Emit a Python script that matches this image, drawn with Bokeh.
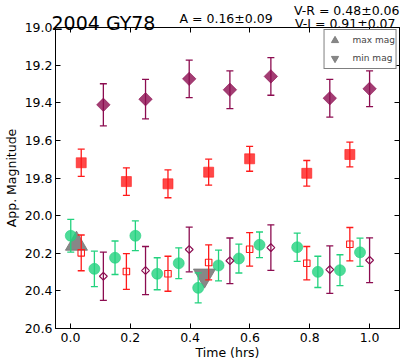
from bokeh.plotting import figure
from bokeh.models import (Range1d, FixedTicker, LinearAxis, Label, Legend, LegendItem,
                          CustomJSTickFormatter, NumeralTickFormatter)
from bokeh.embed import file_html
from bokeh.resources import INLINE

# ---------------- data ----------------
t_V = [0.001, 0.080, 0.149, 0.217, 0.290, 0.362, 0.427, 0.495, 0.563, 0.632, 0.758, 0.827, 0.901, 0.968]
mag_V = [20.107, 20.283, 20.224, 20.107, 20.309, 20.253, 20.384, 20.265, 20.228, 20.155, 20.168, 20.299, 20.290, 20.195]
err_V = [0.087, 0.094, 0.089, 0.079, 0.085, 0.082, 0.080, 0.082, 0.077, 0.068, 0.075, 0.083, 0.082, 0.075]

t_R = [0.036, 0.187, 0.326, 0.462, 0.599, 0.790, 0.934]
mag_R = [19.719, 19.819, 19.831, 19.769, 19.698, 19.775, 19.675]
err_R = [0.072, 0.073, 0.074, 0.069, 0.066, 0.068, 0.066]
mag_R_shift = [20.198, 20.297, 20.309, 20.249, 20.179, 20.253, 20.152]
err_R_shift = [0.095, 0.095, 0.093, 0.093, 0.089, 0.089, 0.089]

t_I = [0.110, 0.251, 0.397, 0.533, 0.670, 0.867, 1.000]
mag_I = [19.411, 19.381, 19.273, 19.331, 19.260, 19.376, 19.326]
err_I = [0.112, 0.105, 0.100, 0.100, 0.100, 0.100, 0.095]
mag_I_shift = [20.322, 20.292, 20.180, 20.240, 20.170, 20.287, 20.237]
err_I_shift = [0.128, 0.128, 0.119, 0.121, 0.121, 0.126, 0.119]

t_max = [0.020]
mag_max = [20.150]
t_min = [0.448]
mag_min = [20.318]

x_ticks = [0.0, 0.2, 0.4, 0.6, 0.8, 1.0]
y_ticks = [19.0, 19.2, 19.4, 19.6, 19.8, 20.0, 20.2, 20.4, 20.6]

title_txt = "2004 GY78"
amp_txt = "A  = 0.16\u00b10.09"
vr_txt = "V-R = 0.48\u00b10.06"
vi_txt = "V-I  = 0.91\u00b10.07"

# ---------------- styling ----------------
PURPLE = "#8c0c50"
RED = "#ff1a1a"
GREEN = "#22d27e"
GREY = "#7a7a7a"
FONT = "DejaVu Sans"
W = 400
H = 362
HEAD_H = 34

# ---------------- main plot ----------------
p = figure(width=W, height=H, output_backend="svg", toolbar_location=None,
           title=None, x_range=Range1d(-0.05, 1.1), y_range=Range1d(20.6, 19.0),
           min_border_left=49, min_border_right=1, min_border_top=27, min_border_bottom=34)
p.grid.visible = False
p.outline_line_color = "black"
p.outline_line_width = 1
p.background_fill_color = "white"
p.border_fill_color = "white"

for ax in (p.xaxis[0], p.yaxis[0]):
    ax.major_tick_in = 5
    ax.major_tick_out = 0
    ax.minor_tick_in = 0
    ax.minor_tick_out = 0
    ax.minor_tick_line_color = None
    ax.axis_line_color = "black"
    ax.major_tick_line_color = "black"
    ax.major_label_text_font = FONT
    ax.major_label_text_font_size = "12.5px"
    ax.major_label_text_color = "black"
    ax.axis_label_text_font = FONT
    ax.axis_label_text_font_size = "12.5px"
    ax.axis_label_text_font_style = "normal"
    ax.axis_label_text_color = "black"

p.xaxis[0].ticker = FixedTicker(ticks=x_ticks)
p.yaxis[0].ticker = FixedTicker(ticks=y_ticks)
p.xaxis[0].formatter = NumeralTickFormatter(format="0.0")
p.yaxis[0].formatter = NumeralTickFormatter(format="0.0")
p.xaxis[0].axis_label = "Time (hrs)"
p.yaxis[0].axis_label = "App. Magnitude"
p.xaxis[0].major_label_standoff = 4
p.yaxis[0].major_label_standoff = 3
p.xaxis[0].axis_label_standoff = 0
p.yaxis[0].axis_label_standoff = 3

blank = CustomJSTickFormatter(code="return ''")
for loc, tk in (("right", y_ticks), ("above", x_ticks)):
    a = LinearAxis(ticker=FixedTicker(ticks=tk), formatter=blank, major_tick_in=5,
                   major_tick_out=0, minor_tick_in=0, minor_tick_out=0,
                   minor_tick_line_color=None, major_label_standoff=0,
                   major_label_text_font_size="0px",
                   axis_line_color="black", major_tick_line_color="black")
    p.add_layout(a, loc)

# grey max/min triangles (behind the points)
r_max = p.scatter(t_max, mag_max, marker="triangle", size=22, fill_color=GREY,
                  line_color=GREY, fill_alpha=0.9, line_alpha=0.9)
r_min = p.scatter(t_min, mag_min, marker="inverted_triangle", size=22, fill_color=GREY,
                  line_color=GREY, fill_alpha=0.9, line_alpha=0.9)


def errbars(t, m, e, color, lw=1.3):
    lo = [a - b for a, b in zip(m, e)]
    hi = [a + b for a, b in zip(m, e)]
    p.segment(x0=t, y0=lo, x1=t, y1=hi, line_color=color, line_width=lw)
    p.scatter(t, lo, marker="dash", size=7, line_color=color, line_width=lw)
    p.scatter(t, hi, marker="dash", size=7, line_color=color, line_width=lw)


errbars(t_I, mag_I, err_I, PURPLE)
p.scatter(t_I, mag_I, marker="square", angle=0.785398, size=9.5, fill_color=PURPLE,
          line_color=PURPLE, fill_alpha=0.8, line_alpha=0.6)
errbars(t_R, mag_R, err_R, RED)
p.scatter(t_R, mag_R, marker="square", size=10, fill_color=RED, line_color=RED,
          fill_alpha=0.8, line_alpha=0.6)

errbars(t_V, mag_V, err_V, GREEN)
p.scatter(t_V, mag_V, marker="circle", size=11, fill_color=GREEN, line_color=GREEN,
          fill_alpha=0.8, line_alpha=0.6)
errbars(t_R, mag_R_shift, err_R_shift, RED)
p.scatter(t_R, mag_R_shift, marker="square", size=6.5, fill_alpha=0.0,
          line_color=RED, line_width=1.1)
errbars(t_I, mag_I_shift, err_I_shift, PURPLE)
p.scatter(t_I, mag_I_shift, marker="square", angle=0.785398, size=5.5,
          fill_alpha=0.0, line_color=PURPLE, line_width=1.2)

legend = Legend(items=[LegendItem(label="max mag", renderers=[r_max]),
                       LegendItem(label="min mag", renderers=[r_min])],
                location="top_right", margin=2, padding=1, spacing=-5,
                glyph_width=18, glyph_height=18, label_height=18, label_standoff=9,
                label_text_font=FONT, label_text_font_size="9px",
                border_line_color="black", border_line_width=1,
                background_fill_color="white", background_fill_alpha=1.0)
p.add_layout(legend)

# ---------------- transparent header overlay (separate root) ----------------
head = figure(width=W, height=HEAD_H, output_backend="svg", toolbar_location=None,
              title=None, x_axis_type=None, y_axis_type=None,
              x_range=Range1d(0, W), y_range=Range1d(0, HEAD_H),
              min_border=0, min_border_left=0, min_border_right=0,
              min_border_top=0, min_border_bottom=0)
head.grid.visible = False
head.outline_line_color = None
head.background_fill_alpha = 0.0
head.border_fill_alpha = 0.0


def hy(page_y):
    return HEAD_H - page_y


head.add_layout(Label(x=51, y=hy(22.5), text=title_txt, text_font=FONT, text_font_size="19px",
                      text_color="black", text_baseline="alphabetic"))
head.add_layout(Label(x=179, y=hy(17.5), text=amp_txt, text_font=FONT, text_font_size="12.5px",
                      text_color="black", text_baseline="alphabetic"))
head.add_layout(Label(x=399, y=hy(9.5), text=vr_txt, text_font=FONT, text_font_size="12.5px",
                      text_color="black", text_align="right", text_baseline="alphabetic"))
head.add_layout(Label(x=399, y=hy(23), text=vi_txt, text_font=FONT, text_font_size="12.5px",
                      text_color="black", text_align="right", text_baseline="alphabetic"))

p.styles = {"position": "absolute", "left": "0px", "top": "0px"}
head.styles = {"position": "absolute", "left": "0px", "top": "0px", "z-index": "2"}

open("out.html", "w").write(file_html([p, head], INLINE))
